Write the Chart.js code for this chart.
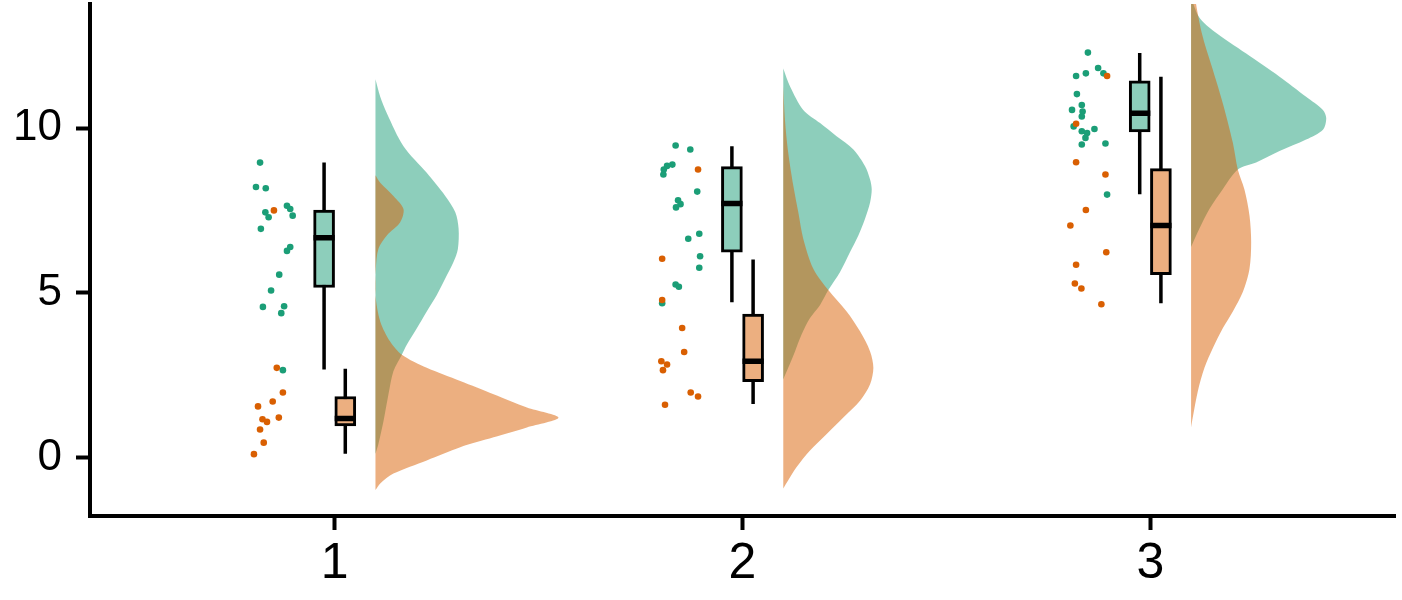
<!DOCTYPE html>
<html>
<head>
<meta charset="utf-8">
<script src="https://cdn.jsdelivr.net/npm/chart.js@4.4.0/dist/chart.umd.min.js"></script>
<style>
  html, body { margin: 0; padding: 0; background: #fff; }
</style>
</head>
<body>
<canvas id="lluvia" width="1402" height="600"></canvas>
<script>
const groups = [1, 2, 3];
const xLabels = ['1', '2', '3'];
const yTicks = [0, 5, 10];

// raw points (jittered x) per group
const greenX = [
    [0.817, 0.807, 0.831, 0.883, 0.891, 0.897, 0.830, 0.838, 0.819, 0.891, 0.883, 0.864, 0.844, 0.824, 0.876, 0.869, 0.873],
    [1.836, 1.872, 1.828, 1.815, 1.807, 1.806, 1.889, 1.842, 1.848, 1.837, 1.894, 1.867, 1.896, 1.894, 1.836, 1.844, 1.803],
    [2.847, 2.872, 2.842, 2.818, 2.885, 2.820, 2.832, 2.808, 2.834, 2.832, 2.812, 2.832, 2.845, 2.863, 2.841, 2.832, 2.890, 2.894]
];
const greenY = [
    [8.95, 8.21, 8.17, 7.64, 7.54, 7.34, 7.44, 7.29, 6.94, 6.39, 6.27, 5.55, 5.07, 4.57, 4.59, 4.38, 2.65],
    [9.47, 9.35, 8.89, 8.85, 8.74, 8.59, 8.07, 7.81, 7.69, 7.59, 6.79, 6.64, 6.11, 5.76, 5.25, 5.18, 4.68],
    [12.29, 11.82, 11.66, 11.58, 11.66, 11.03, 10.70, 10.55, 10.50, 10.35, 10.05, 9.90, 9.85, 9.97, 9.70, 9.50, 9.53, 7.98]
];
const orangeX = [
    [0.851, 0.858, 0.873, 0.848, 0.812, 0.823, 0.834, 0.863, 0.817, 0.826, 0.802],
    [1.891, 1.803, 1.803, 1.852, 1.857, 1.801, 1.815, 1.805, 1.873, 1.891, 1.810],
    [2.894, 2.818, 2.818, 2.890, 2.842, 2.804, 2.892, 2.818, 2.815, 2.831, 2.880]
];
const orangeY = [
    [7.50, 2.72, 1.97, 1.70, 1.55, 1.16, 1.08, 1.21, 0.85, 0.45, 0.10],
    [8.74, 6.03, 4.78, 3.93, 3.20, 2.92, 2.82, 2.65, 1.97, 1.85, 1.60],
    [11.58, 10.13, 8.96, 8.59, 7.51, 7.04, 6.23, 5.85, 5.28, 5.13, 4.65]
];

// boxplot stats
const greenLow = [2.67, 4.71, 7.99];
const greenQ1 = [5.16, 6.23, 9.88];
const greenMed = [6.67, 7.71, 10.45];
const greenQ3 = [7.51, 8.83, 11.43];
const greenHigh = [8.95, 9.45, 12.28];
const orangeLow = [0.11, 1.62, 4.68];
const orangeQ1 = [0.96, 2.30, 5.55];
const orangeMed = [1.18, 2.92, 7.04];
const orangeQ3 = [1.85, 4.35, 8.77];
const orangeHigh = [2.69, 6.01, 11.56];

// half-violin densities (relative to the tallest one)
const greenDensY = [
    [11.48, 10.95, 10.45, 9.45, 8.64, 7.94, 7.44, 6.94, 6.33, 5.93, 5.43, 4.93, 4.43, 3.92, 3.42, 3.12, 2.62, 1.92, 1.11, 0.41, 0.11],
    [11.81, 11.26, 10.55, 10.15, 9.75, 9.35, 8.85, 8.44, 8.14, 7.74, 7.24, 6.74, 6.23, 5.63, 5.08, 4.63, 4.23, 3.73, 3.22, 2.72, 2.37],
    [13.95, 13.36, 12.96, 12.26, 11.56, 10.95, 10.55, 10.30, 9.95, 9.65, 9.30, 8.95, 8.74, 8.14, 7.54, 6.94, 6.39]
];
const greenDens = [
    [0, 0.026, 0.062, 0.153, 0.280, 0.381, 0.436, 0.454, 0.450, 0.426, 0.381, 0.335, 0.280, 0.226, 0.171, 0.144, 0.098, 0.071, 0.044, 0.016, 0],
    [0, 0.037, 0.109, 0.201, 0.291, 0.383, 0.446, 0.474, 0.483, 0.474, 0.446, 0.410, 0.364, 0.310, 0.246, 0.201, 0.146, 0.100, 0.064, 0.027, 0],
    [0, 0.044, 0.119, 0.301, 0.483, 0.628, 0.720, 0.738, 0.720, 0.628, 0.483, 0.355, 0.255, 0.173, 0.100, 0.045, 0]
];
const orangeDensY = [
    [8.57, 8.34, 7.94, 7.54, 7.14, 6.74, 6.33, 5.73, 4.93, 4.13, 3.52, 3.12, 2.72, 2.32, 1.92, 1.52, 1.21, 0.91, 0.61, 0.31, -0.09, -0.49, -0.79, -0.99],
    [11.26, 10.25, 9.25, 8.24, 7.44, 6.64, 5.73, 5.08, 4.43, 3.83, 3.22, 2.72, 2.22, 1.72, 1.21, 0.71, 0.21, -0.29, -0.69, -0.94],
    [15.3, 14.5, 13.77, 12.76, 11.76, 10.75, 9.55, 8.74, 8.14, 7.34, 6.54, 5.73, 5.03, 4.43, 3.92, 3.32, 2.72, 2.02, 1.21, 0.91]
];
const orangeDens = [
    [0, 0.026, 0.098, 0.153, 0.135, 0.062, 0.016, 0.002, 0, 0.026, 0.080, 0.144, 0.280, 0.463, 0.645, 0.827, 1, 0.827, 0.645, 0.463, 0.280, 0.098, 0.026, 0],
    [0, 0.009, 0.027, 0.055, 0.082, 0.109, 0.164, 0.246, 0.346, 0.419, 0.474, 0.492, 0.474, 0.419, 0.328, 0.237, 0.146, 0.073, 0.027, 0],
    [0, 0.014, 0.027, 0.064, 0.119, 0.173, 0.228, 0.255, 0.291, 0.319, 0.328, 0.319, 0.283, 0.228, 0.173, 0.119, 0.073, 0.037, 0.009, 0]
];

const green = '#1B9E77';
const orange = '#D95F02';
const greenFill = 'rgba(27, 158, 119, 0.5)';
const orangeFill = 'rgba(217, 95, 2, 0.5)';
const dodge = 0.026;
const slabGap = 0.1;
const slabWidth = 0.449;

function slab(ys, dens, g, color, order) {
    const base = g + slabGap;
    return {
        type: 'line',
        data: ys.map((y, i) => ({ x: base + dens[i] * slabWidth, y: y })),
        backgroundColor: color,
        borderWidth: 0,
        pointRadius: 0,
        fill: 'shape',
        tension: 0.3,
        order: order
    };
}

function points(xs, ys, color, order) {
    const data = [];
    xs.forEach((row, i) => row.forEach((x, j) => data.push({ x: x, y: ys[i][j] })));
    return {
        type: 'scatter',
        data: data,
        backgroundColor: color,
        borderWidth: 0,
        pointRadius: 3.3,
        order: order
    };
}

function whiskers(low, high, shift) {
    const data = [];
    groups.forEach((g, i) => {
        data.push({ x: g + shift, y: low[i] }, { x: g + shift, y: high[i] }, { x: g + shift, y: null });
    });
    return { type: 'line', data: data, borderColor: '#000', borderWidth: 3.5, pointRadius: 0, spanGaps: false, fill: false, order: 4 };
}

function boxes(q1, q3, shift, color) {
    return {
        type: 'bar',
        data: groups.map((g, i) => ({ x: g + shift, y: [q1[i], q3[i]] })),
        backgroundColor: color,
        borderColor: '#000',
        borderWidth: 3,
        borderSkipped: false,
        grouped: false,
        barThickness: 21,
        order: 3
    };
}

function medians(med, shift) {
    const data = [];
    groups.forEach((g, i) => {
        data.push({ x: g + shift - dodge, y: med[i] }, { x: g + shift + dodge, y: med[i] }, { x: g + shift + dodge, y: null });
    });
    return { type: 'line', data: data, borderColor: '#000', borderWidth: 5.5, pointRadius: 0, spanGaps: false, fill: false, order: 2 };
}

const datasets = [];
groups.forEach((g, i) => {
    datasets.push(slab(greenDensY[i], greenDens[i], g, greenFill, 6));
    datasets.push(slab(orangeDensY[i], orangeDens[i], g, orangeFill, 5));
});
datasets.push(whiskers(greenLow, greenHigh, -dodge));
datasets.push(whiskers(orangeLow, orangeHigh, dodge));
datasets.push(boxes(greenQ1, greenQ3, -dodge, '#8DCEBB'));
datasets.push(boxes(orangeQ1, orangeQ3, dodge, '#ECAF80'));
datasets.push(medians(greenMed, -dodge));
datasets.push(medians(orangeMed, dodge));
datasets.push(points(greenX, greenY, green, 1));
datasets.push(points(orangeX, orangeY, orange, 0));

const ctx = document.getElementById('lluvia').getContext('2d');
const chart = new Chart(ctx, {
    type: 'scatter',
    data: { datasets: datasets },
    options: {
        responsive: false,
        animation: false,
        events: [],
        layout: { padding: { left: 0, right: 7, top: 0, bottom: 0 } },
        plugins: {
            legend: { display: false },
            tooltip: { enabled: false }
        },
        scales: {
            x: {
                type: 'linear',
                min: 0.4,
                max: 3.6,
                offset: false,
                afterBuildTicks: s => { s.ticks = groups.map(v => ({ value: v })); },
                afterFit: s => { s.height = 84; s.paddingLeft = 0; s.paddingRight = 0; },
                ticks: {
                    autoSkip: false,
                    maxRotation: 0,
                    padding: 4,
                    color: '#000',
                    font: { family: 'Liberation Sans, Arial, sans-serif', size: 50 },
                    callback: v => xLabels[groups.indexOf(v)]
                },
                grid: { display: true, offset: false, drawOnChartArea: false, drawTicks: true, tickLength: 14, tickWidth: 4, tickColor: '#000' },
                border: { display: true, color: '#000', width: 4 }
            },
            y: {
                type: 'linear',
                min: -1.777,
                max: 13.765,
                afterBuildTicks: s => { s.ticks = yTicks.map(v => ({ value: v })); },
                afterFit: s => { s.width = 90; s.paddingTop = 0; s.paddingBottom = 0; },
                ticks: {
                    padding: 14,
                    color: '#000',
                    font: { family: 'Liberation Sans, Arial, sans-serif', size: 44 },
                    callback: v => String(v)
                },
                grid: { display: true, drawOnChartArea: false, drawTicks: true, tickLength: 14, tickWidth: 4, tickColor: '#000' },
                border: { display: true, color: '#000', width: 4 }
            }
        }
    }
});
</script>
</body>
</html>
